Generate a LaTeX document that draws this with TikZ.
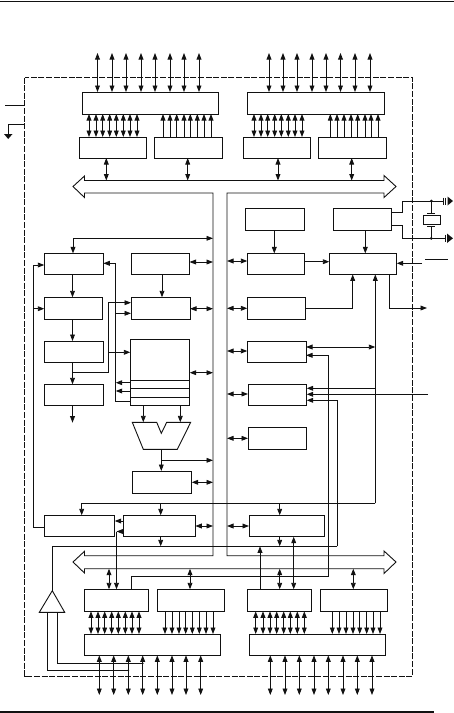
\documentclass[tikz,border=0pt]{standalone}
\usetikzlibrary{arrows.meta}
\definecolor{ink}{HTML}{111111}
\tikzset{
  boxst/.style={draw=ink,line width=.9pt,inner sep=0pt,outer sep=0pt,anchor=north west,rectangle},
  wire/.style={draw=ink,line width=.9pt},
  ar/.style={wire,-{Triangle[length=6.5pt,width=4.8pt]}},
  dar/.style={wire,{Triangle[length=6.5pt,width=4.8pt]}-{Triangle[length=6.5pt,width=4.8pt]}},
  dot/.style={circle,fill=ink,inner sep=0pt,minimum size=3pt},
}
\newcommand{\bx}[5]{\node[boxst,minimum width={(#4-#2)*1pt},minimum height={(#5-#3)*1pt}] (#1) at (#2,#3) {};}
\begin{document}
\begin{tikzpicture}[x=1pt,y=-1pt]
\useasboundingbox (0,0) rectangle (454,713);
% page rules
\draw[ink,line width=1pt] (0,1) -- (454,1);
\draw[ink,line width=2.2pt] (0,712) -- (434,712);
% dashed outline
\draw[ink,line width=.9pt,dash pattern=on 6pt off 1.6pt] (24.5,77.5) rectangle (412.5,676);
% boxes
\bx{latchTL}{82}{92}{218}{114}
\bx{latchTR}{247}{92}{384}{114}
\bx{p0a}{79}{137}{146}{158}
\bx{p0b}{154}{137}{222}{158}
\bx{p1a}{243}{137}{310}{158}
\bx{p1b}{318}{137}{386}{158}
\bx{bl1}{44.3}{253.4}{103.3}{274.4}
\bx{bl2}{44.3}{297.3}{102.7}{319.3}
\bx{bl3}{44.3}{341}{103.3}{362.3}
\bx{bl4}{44.3}{384.3}{103.3}{405.7}
\bx{cl1}{131}{253.4}{189.5}{274.4}
\bx{cl2}{131}{297.3}{190}{319.3}
\bx{ram}{130.3}{339.3}{189.7}{405.7}
\draw[ink,line width=.9pt] (ram.west |- 0,380.3) -- (ram.east |- 0,380.3);
\draw[ink,line width=.9pt] (ram.west |- 0,388.3) -- (ram.east |- 0,388.3);
\draw[ink,line width=.9pt] (ram.west |- 0,397.3) -- (ram.east |- 0,397.3);
\bx{acc}{132.3}{471}{191.7}{493.7}
\bx{e1}{44.3}{515.3}{114.7}{536.7}
\bx{e2}{123.3}{515.3}{195.3}{536.7}
\bx{e3}{249}{515.3}{324.7}{536.7}
\bx{g1}{245.3}{208.3}{304}{230.3}
\bx{g2}{333}{208.3}{391.7}{230.3}
\bx{h1}{247.3}{253.4}{304.7}{274.4}
\bx{h2}{329.3}{253.4}{396.7}{274.4}
\bx{j1}{247.3}{297.3}{305}{319.3}
\bx{j2}{247.3}{341}{306}{362.3}
\bx{j3}{248}{384.3}{306.7}{405.7}
\bx{j4}{248}{427.3}{306.7}{449.3}
\bx{f1}{84.3}{589.3}{148.7}{611.3}
\bx{f2}{157}{589.3}{224}{611.3}
\bx{f3}{247.3}{589.3}{311.3}{611.3}
\bx{f4}{320.3}{589.3}{387.3}{611.3}
\bx{latchBL}{84.3}{634}{220.3}{655.3}
\bx{latchBR}{249}{634}{385.3}{655.3}
% internal bus, one closed outline
\draw[ink,line width=.9pt,line join=miter] (213,193) -- (84.5,193) -- (84.5,197.5) -- (73,186.5) -- (84.5,176) -- (84.5,180.5) -- (384,180.5) -- (384,175.5) -- (396,186.5) -- (384,197.5) -- (384,193) -- (227,193) -- (227,555.7) -- (384,555.7) -- (384,551) -- (396,562) -- (384,573.5) -- (384,568.7) -- (84.5,568.7) -- (84.5,573) -- (73,562) -- (84.5,551.3) -- (84.5,555.7) -- (213,555.7) -- cycle;
\coordinate (busAt) at (0,180.5);
\coordinate (busBt) at (0,555.7);
\coordinate (busBb) at (0,568.7);
\coordinate (busL) at (213,0);
\coordinate (busR) at (227,0);
\coordinate (pinT) at (0,53);
\coordinate (pinB) at (0,695);
% external pins
\foreach \x in {97.5,112,126,141,155,170,184,199} \draw[dar] (\x,0 |- pinT) -- (\x,0 |- latchTL.north);
\foreach \x in {269,283,297,312,326,340.5,355,370} \draw[dar] (\x,0 |- pinT) -- (\x,0 |- latchTR.north);
\foreach \x in {99.3,113.7,128.3,142.7,157.3,172,186,200.7} \draw[dar] (\x,0 |- latchBL.south) -- (\x,0 |- pinB);
\foreach \x in {270.3,285,299.3,314,328.3,343,357.3,372} \draw[dar] (\x,0 |- latchBR.south) -- (\x,0 |- pinB);
% latch to port
\foreach \x in {89,96,102.7,109.7,116.3,123.3,130,137} \draw[dar] (\x,0 |- latchTL.south) -- (\x,0 |- p0a.north);
\foreach \x in {163,170,176.7,184,190.3,197.3,204,211} \draw[ar] (\x,0 |- p0b.north) -- (\x,0 |- latchTL.south);
\foreach \x in {254,261,267.7,274.7,281.3,288.3,295,302} \draw[dar] (\x,0 |- latchTR.south) -- (\x,0 |- p1a.north);
\foreach \x in {330.3,337,344,351,357.7,365,371,378} \draw[ar] (\x,0 |- p1b.north) -- (\x,0 |- latchTR.south);
\foreach \x in {91,98,104.7,111.7,118.3,125.3,132,139} \draw[dar] (\x,0 |- f1.south) -- (\x,0 |- latchBL.north);
\foreach \x in {165,172,179,185.7,192.3,199.3,206,213} \draw[ar] (\x,0 |- f2.south) -- (\x,0 |- latchBL.north);
\foreach \x in {255.7,263,270,276.7,283.7,290.3,297.3,304.3} \draw[dar] (\x,0 |- f3.south) -- (\x,0 |- latchBR.north);
\foreach \x in {332.3,339,346,353,359.7,366.7,373,380} \draw[ar] (\x,0 |- f4.south) -- (\x,0 |- latchBR.north);
% ports to buses
\draw[dar] (106.3,0 |- p0a.south) -- (106.3,0 |- busAt);
\draw[dar] (187.7,0 |- p0b.south) -- (187.7,0 |- busAt);
\draw[dar] (278,0 |- p1a.south) -- (278,0 |- busAt);
\draw[dar] (351.7,0 |- p1b.south) -- (351.7,0 |- busAt);
\draw[dar] (109,0 |- busBb) -- (109,0 |- f1.north);
\draw[dar] (190,0 |- busBb) -- (190,0 |- f2.north);
\draw[dar] (279.7,0 |- busBb) -- (279.7,0 |- f3.north);
\draw[dar] (353.3,0 |- busBb) -- (353.3,0 |- f4.north);
% power pins
\coordinate (vcc) at (5,105);
\coordinate (vccB) at (24.5,105);
\coordinate (gndB) at (24.5,124);
\coordinate (gnd) at (8,124);
\coordinate (gndE) at (8,134);
\draw[wire] (vcc) -- (vccB);
\draw[wire] (gndB) -- (gnd) -- (gndE);
\fill[ink] (4,134) -- (12.5,134) -- (8.2,139) -- cycle;
% left column
\coordinate (tl) at (73,238.3);
\draw[ar] (tl) -- (tl -| busL);
\draw[ar] (tl) -- (tl |- bl1.north);
\draw[ar] (72.5,0 |- bl1.south) -- (72.5,0 |- bl2.north);
\draw[ar] (72.5,0 |- bl2.south) -- (72.5,0 |- bl3.north);
\draw[ar] (72.5,0 |- bl3.south) -- (72.5,0 |- bl4.north);
\coordinate (bl4out) at (72.5,422.7);
\draw[ar] (72.5,0 |- bl4.south) -- (bl4out);
\coordinate (trunk) at (33.3,0);
\draw[ar] (trunk |- 0,265) -- (bl1.west |- 0,265);
\draw[ar] (trunk |- 0,308.7) -- (bl2.west |- 0,308.7);
\draw[wire] (trunk |- 0,265) -- (trunk |- 0,527) -- (e1.west |- 0,527);
% branch to C2 / ram
\coordinate (br) at (108.5,372.5);
\draw[wire] (72.5,372.5) -- (br);
\draw[ar] (br) -- (br |- 0,302.7) -- (cl2.west |- 0,302.7);
\draw[ar] (br |- 0,352.3) -- (ram.west |- 0,352.3);
% return from ram
\coordinate (rt) at (115.7,0);
\draw[ar] (ram.west |- 0,401.7) -- (rt |- 0,401.7) -- (rt |- 0,263.3) -- (bl1.east |- 0,263.3);
\draw[ar] (rt |- 0,313.3) -- (cl2.west |- 0,313.3);
\draw[ar] (ram.west |- 0,382.7) -- (rt |- 0,382.7);
\draw[ar] (ram.west |- 0,391) -- (rt |- 0,391);
% centre column
\draw[ar] (162,0 |- cl1.south) -- (162,0 |- cl2.north);
\draw[dar] (cl1.east |- 0,262) -- (busL |- 0,262);
\draw[dar] (cl2.east |- 0,308.7) -- (busL |- 0,308.7);
\draw[dar] (ram.east |- 0,372.7) -- (busL |- 0,372.7);
\draw[ink,line width=.9pt] (132.3,422.3) -- (156.7,422.3) -- (161.3,433.3) -- (166.7,422.3) -- (190.7,422.3) -- (177.3,449.3) -- (143.3,449.3) -- cycle;
\coordinate (aluIn1) at (143.3,422.3);
\coordinate (aluIn2) at (180.3,422.3);
\coordinate (aluOut) at (161.3,449.3);
\draw[ar] (aluIn1 |- ram.south) -- (aluIn1);
\draw[ar] (aluIn2 |- ram.south) -- (aluIn2);
\draw[ar] (aluOut) -- (aluOut |- acc.north);
\draw[ar] (161.3,460.3) -- (busL |- 0,460.3);
\draw[dar] (acc.east |- 0,482.3) -- (busL |- 0,482.3);
% line above lower row
\coordinate (lnA) at (81.7,503.3);
\coordinate (lnB) at (375.3,503.3);
\draw[ar] (lnB) -- (lnB |- h2.south);
\draw[ar] (lnB) -- (lnA) -- (lnA |- e1.north);
\draw[ar] (160.7,503.3) -- (160.7,0 |- e2.north);
\draw[ar] (279.7,503.3) -- (279.7,0 |- e3.north);
\draw[ar] (e2.west |- 0,521) -- (e1.east |- 0,521);
\draw[ar] (e2.west |- 0,531.5) -- (116.5,531.5);
\draw[ar] (116.5,531.5) -- (116.5,0 |- f1.north);
\draw[dar] (e2.east |- 0,526) -- (busL |- 0,526);
\draw[dar] (busR |- 0,526) -- (e3.west |- 0,526);
% line y=546
\coordinate (mA) at (52.3,546.3);
\coordinate (mB) at (337.3,546.3);
\coordinate (triApex) at (52.3,590.7);
\draw[ink,line width=.9pt] (triApex) -- (39.3,612.3) -- (64.7,612.3) -- cycle;
\draw[wire] (triApex) -- (mA) -- (mB);
\draw[ar] (mB) -- (mB |- 0,400.3) -- (j3.east |- 0,400.3);
\draw[ar] (160.7,0 |- e2.south) -- (160.7,546.3);
\draw[ar] (279.7,0 |- e3.south) -- (279.7,546.3);
\coordinate (lg1) at (47.3,612.3);
\coordinate (lg2) at (57.3,612.3);
\draw[wire] (lg1) -- (47.3,670.3) -- (128.3,670.3);
\draw[wire] (lg2) -- (57.3,663.3) -- (142.7,663.3);
\node[dot,minimum size=2pt] (d1) at (128.3,670.3) {};
\node[dot,minimum size=2pt] (d2) at (142.7,663.3) {};
% F to ...
\coordinate (kA) at (131.3,576.7);
\coordinate (kB) at (328.3,576.7);
\draw[wire] (kA |- f1.north) -- (kA) -- (kB);
\draw[ar] (kB) -- (kB |- 0,355.3) -- (j2.east |- 0,355.3);
\draw[ar] (260,0 |- f3.north) -- (260,546.3);
\draw[dar] (293.7,0 |- f3.north) -- (293.7,0 |- e3.south);
% right column
\draw[ar] (274.3,0 |- g1.south) -- (274.3,0 |- h1.north);
\draw[ar] (365.3,0 |- g2.south) -- (365.3,0 |- h2.north);
\draw[ar] (h1.east |- 0,261.7) -- (h2.west |- 0,261.7);
\coordinate (resetIn) at (422,263.3);
\draw[ar] (resetIn) -- (h2.east |- resetIn);
\coordinate (oba) at (425.3,259.3);
\coordinate (obb) at (447.7,259.3);
\draw[wire] (oba) -- (obb);
\coordinate (h2o) at (389.3,308);
\coordinate (h2oE) at (427,308);
\draw[ar] (h2o |- h2.south) -- (h2o) -- (h2oE);
\draw[ar] (j1.east |- 0,308.3) -- (352.7,308.3) -- (352.7,0 |- h2.south);
\draw[dar] (busR |- 0,261) -- (h1.west |- 0,261);
\draw[dar] (busR |- 0,308.3) -- (j1.west |- 0,308.3);
\draw[dar] (busR |- 0,351) -- (j2.west |- 0,351);
\draw[dar] (busR |- 0,394) -- (j3.west |- 0,394);
\draw[dar] (busR |- 0,438.3) -- (j4.west |- 0,438.3);
\draw[dar] (j2.east |- 0,347) -- (lnB |- 0,347);
\draw[ar] (lnB |- 0,388.3) -- (j3.east |- 0,388.3);
\coordinate (txIn) at (428,394.3);
\draw[ar] (txIn) -- (j3.east |- txIn);
% crystal
\coordinate (xa) at (431.3,201);
\coordinate (xb) at (431.3,238.3);
\draw[wire] (g2.east |- 0,212.3) -- (402.7,212.3) -- (402.7,201) -- (442.5,201);
\draw[wire] (g2.east |- 0,225) -- (402.7,225) -- (402.7,238.3) -- (445,238.3);
\node[dot] (xd1) at (xa) {};
\node[dot] (xd2) at (xb) {};
\node[boxst,minimum width=17.3pt,minimum height=9pt] (xtal) at (423,215.3) {};
\draw[wire] (xa) -- (431.3,213.3);
\draw[wire] (xb) -- (431.3,226.7);
\draw[wire] (427,213.3) -- (435,213.3);
\draw[wire] (427,226.7) -- (435,226.7);
\draw[wire] (443,197.5) -- (443,204.5);
\draw[wire] (445.5,197.5) -- (445.5,204.5);
\draw[wire] (445,234.5) -- (445,242);
\fill[ink] (447.5,196.5) -- (453,201) -- (447.5,205.5) -- cycle;
\fill[ink] (447,233.5) -- (453,238.3) -- (447,243) -- cycle;
\end{tikzpicture}
\end{document}
